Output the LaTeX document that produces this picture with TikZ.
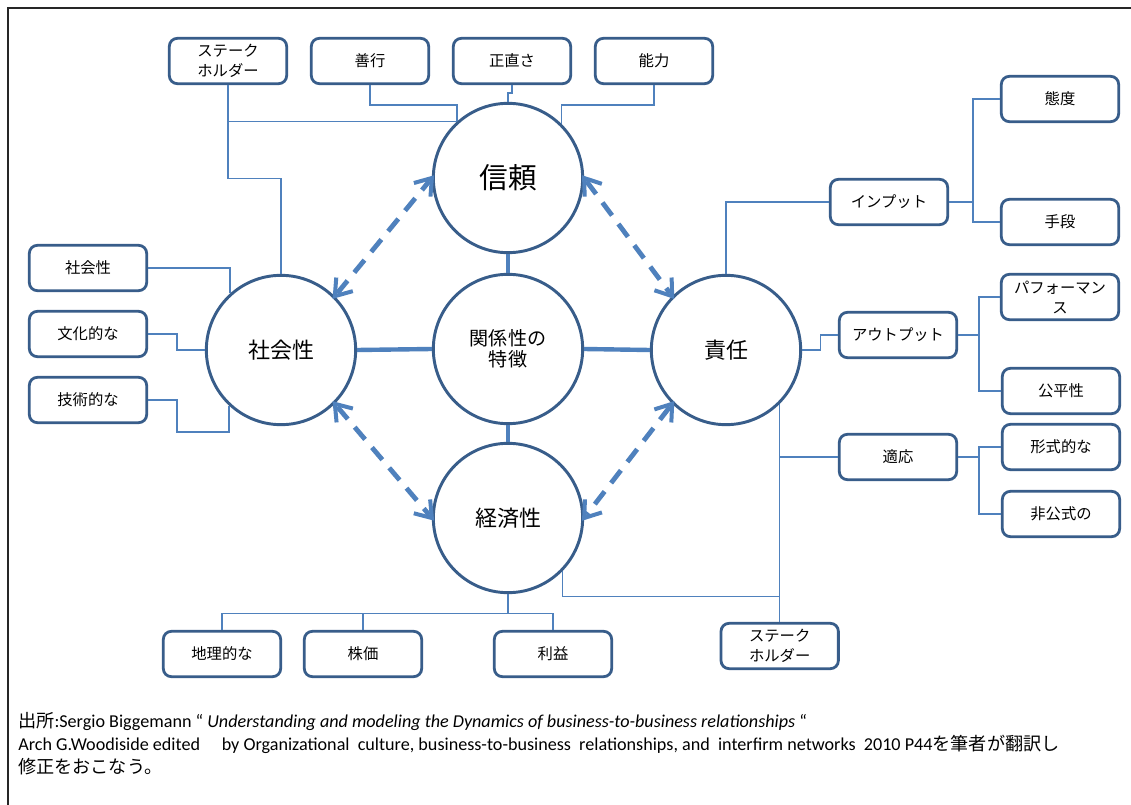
\documentclass[tikz,border=0pt]{standalone}
\usepackage{fontspec}
\setmainfont{Carlito}
\newfontfamily\cjk{Noto Sans CJK JP}
\usetikzlibrary{arrows.meta,calc}
\definecolor{rimblue}{HTML}{385D8A}
\definecolor{linkblue}{HTML}{4F81BD}
\begin{document}
\begin{tikzpicture}[x=0.75pt,y=-0.75pt,
  topic/.style={circle, draw=rimblue, line width=2.2pt, fill=white,
    minimum size=112pt, inner sep=0pt, align=center,
    font=\cjk\fontsize{16.5}{20}\selectfont},
  item/.style={draw=rimblue, line width=2.1pt, rounded corners=6pt, fill=white,
    minimum width=88pt, minimum height=34pt, inner sep=0pt, align=center,
    font=\cjk\fontsize{11.5}{15}\selectfont},
  link/.style={draw=linkblue, line width=0.9pt},
  spoke/.style={draw=linkblue, line width=3.3pt},
  mutual/.style={draw=linkblue, line width=3.6pt, dash pattern=on 12pt off 8pt,
    shorten <=3pt, shorten >=3pt},
  barb/.style={draw=linkblue, line width=3pt},
  note/.style={anchor=base west, inner sep=0pt, font=\fontsize{13.6}{15}\selectfont},
]
\useasboundingbox (0,0) rectangle (1131,805);
\fill[white] (0,0) rectangle (1131,805);
% outer frame
\draw[line width=1.2pt, black!85] (8,805) -- (8,8) -- (1131,8);

% main topics
\node[topic, font=\cjk\fontsize{21.5}{24}\selectfont] (trust) at (508,178) {信頼};
\node[topic, font=\cjk\fontsize{14.3}{15.5}\selectfont] (core) at (508,349) {関係性の\\特徴};
\node[topic] (social) at (281,350) {社会性};
\node[topic] (resp) at (726,350) {責任};
\node[topic] (econ) at (508,518) {経済性};

% boxes above
\node[item] (stake1) at (228,61) {ステーク\\ホルダー};
\node[item] (good) at (370,61) {善行};
\node[item] (honest) at (512,61) {正直さ};
\node[item] (ability) at (654,61) {能力};

% boxes left
\node[item] (lsoc) at (88,268) {社会性};
\node[item] (culture) at (88,334) {文化的な};
\node[item] (tech) at (88,400) {技術的な};

% boxes right
\node[item] (input) at (889,202) {インプット};
\node[item] (attitude) at (1060,99) {態度};
\node[item] (means) at (1060,222) {手段};
\node[item] (output) at (898,335) {アウトプット};
\node[item] (perf) at (1060,297) {パフォーマン\\ス};
\node[item] (fair) at (1061,391) {公平性};
\node[item] (adapt) at (898,457) {適応};
\node[item] (formal) at (1061,447) {形式的な};
\node[item] (informal) at (1061,514) {非公式の};

% boxes below
\node[item] (geo) at (222,654) {地理的な};
\node[item] (stock) at (363,654) {株価};
\node[item] (profit) at (553,654) {利益};
\node[item] (stake2) at (779.7,646) {ステーク\\ホルダー};

% spokes from the centre
\draw[spoke] (trust.south) -- (core.north);
\draw[spoke] (core.south) -- (econ.north);
\draw[spoke] (social.east) -- (core.west);
\draw[spoke] (core.east) -- (resp.west);

% two-way dashed arrows: dashed shaft plus open chevron heads
\draw[mutual] (social.45) -- (trust.west);
\draw[mutual] (trust.east) -- (resp.135);
\draw[mutual] (social.-45) -- (econ.west);
\draw[mutual] (resp.-135) -- (econ.east);
% each head: two arms of 14pt, 35 degrees either side of the shaft
\foreach \a/\b in {trust.west/social.45, social.45/trust.west,
                   trust.east/resp.135, resp.135/trust.east,
                   econ.west/social.-45, social.-45/econ.west,
                   econ.east/resp.-135, resp.-135/econ.east}{
  \draw[barb] ($(\a)!14pt!35:(\b)$) -- (\a) -- ($(\a)!14pt!-35:(\b)$);
}

% trust attributes
\draw[link] (stake1.south) |- (trust.132);
\draw[link] (social.north) -- ++(0,-95) -| (stake1.south);
\draw[link] (good.south) -- ++(0,20) -| (trust.132);
\draw[link] (honest.south) -- ++(0,8) -| (trust.north);
\draw[link] (ability.south) -- ++(0,20) -| (trust.45);

% social attributes
\draw[link] (lsoc.east) -| (social.132);
\draw[link] (culture.east) -- ++(29,0) |- (social.west);
\draw[link] (tech.east) -- ++(29,0) -- ++(0,32) -| (social.227);

% responsibility attributes
\draw[link] (resp.north) |- (input.west);
\draw[link] (input.east) -- ++(24,0) |- (attitude.west);
\draw[link] (input.east) -- ++(24,0) |- (means.west);
\draw[link] (resp.east) -- ++(18,0) |- (output.west);
\draw[link] (output.east) -- ++(21,0) |- (perf.west);
\draw[link] (output.east) -- ++(21,0) |- (fair.west);
\draw[link] (resp.-45) -- (resp.-45 |- stake2.north);
\draw[link] (resp.-45) |- (adapt.west);
\draw[link] (adapt.east) -- ++(21,0) |- (formal.west);
\draw[link] (adapt.east) -- ++(21,0) |- (informal.west);

% economy attributes
\draw[link] (econ.-44) -- ++(0,26) -| (stake2.north);
\draw[link] (econ.south) -- ++(0,19) -| (geo.north);
\draw[link] (econ.south) -- ++(0,19) -| (stock.north);
\draw[link] (econ.south) -- ++(0,19) -| (profit.north);

% source note
\node[note] (src1) at (18,727) {{\cjk 出所}:Sergio Biggemann “ \textit{Understanding and modeling the Dynamics of business-to-business relationships} “};
\node[note] (src2) at (18,750) {Arch G.Woodiside edited\hspace{1.2em}by Organizational\ \ culture, business-to-business\ \ relationships, and\ \ interfirm networks\ \ 2010 P44{\cjk を筆者が翻訳し}};
\node[note] (src3) at (18,773) {\cjk 修正をおこなう。};
\end{tikzpicture}
\end{document}
